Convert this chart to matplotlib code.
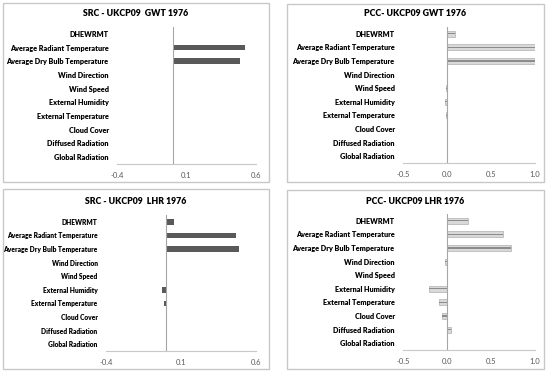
import numpy as np
import matplotlib
matplotlib.use("Agg")
import matplotlib.pyplot as plt
from matplotlib.patches import Rectangle

plt.rcParams['font.family'] = ['Lato', 'DejaVu Sans']

categories = ['DHEWRMT', 'Average Radiant Temperature', 'Average Dry Bulb Temperature',
              'Wind Direction', 'Wind Speed', 'External Humidity', 'External Temperature',
              'Cloud Cover', 'Diffused Radiation', 'Global Radiation']

src_gwt = [0.003, 0.523, 0.485, 0.003, 0.0, 0.0, 0.0, 0.0, 0.003, 0.0]
pcc_gwt = [0.09, 1.0, 1.0, 0.0, -0.01, -0.02, -0.01, 0.0, 0.005, -0.005]
src_lhr = [0.055, 0.465, 0.485, 0.0, 0.0, -0.025, -0.012, -0.003, 0.005, 0.0]
pcc_lhr = [0.24, 0.64, 0.73, -0.02, 0.0, -0.21, -0.09, -0.06, 0.045, 0.0]

titles = ['SRC - UKCP09  GWT 1976', 'PCC- UKCP09 GWT 1976',
          'SRC - UKCP09  LHR 1976', 'PCC- UKCP09 LHR 1976']
src_ticks = [-0.4, 0.1, 0.6]
pcc_ticks = [-0.5, 0.0, 0.5, 1.0]

fig = plt.figure(figsize=(5.5, 3.73), dpi=100)
W, H = 550, 373


def fbox(x0, y0, x1, y1):
    # pixel box (top-left origin) -> figure coords
    return [x0 / W, 1 - y1 / H, (x1 - x0) / W, (y1 - y0) / H]


# panel borders
for (x0, y0, x1, y1) in [(3, 3, 269, 182), (287, 4, 544, 182),
                         (3, 189, 269, 369), (287, 190, 544, 369)]:
    fig.patches.append(Rectangle((x0 / W, 1 - y1 / H), (x1 - x0) / W, (y1 - y0) / H,
                                 transform=fig.transFigure, fill=False,
                                 edgecolor='#c8c8c8', linewidth=1.0))

panels = [
    (fbox(117, 27, 256, 164), src_gwt, 'src', titles[0], (136, 14), 5.2),
    (fbox(403, 27, 535, 163), pcc_gwt, 'pcc', titles[1], (415, 14), 5.2),
    (fbox(106, 215, 256, 351), src_lhr, 'src', titles[2], (136, 201), 4.8),
    (fbox(403, 214, 535, 350), pcc_lhr, 'pcc', titles[3], (415, 201), 5.2),
]

y = np.arange(len(categories))

for rect, vals, kind, title, tpos, lsize in panels:
    ax = fig.add_axes(rect)
    if kind == 'src':
        ax.barh(y, vals, height=0.42, color='#595959')
        ax.set_xlim(-0.4, 0.6)
        ax.set_xticks(src_ticks)
        ax.set_xticklabels(['-0.4', '0.1', '0.6'])
    else:
        # light gradient-like bars with a darker core
        ax.barh(y, vals, height=0.45, color='#d9d9d9', edgecolor='#b0b0b0', linewidth=0.5)
        ax.barh(y, vals, height=0.08, color='#8c8c8c')
        ax.set_xlim(-0.5, 1.0)
        ax.set_xticks(pcc_ticks)
        ax.set_xticklabels(['-0.5', '0.0', '0.5', '1.0'])
    ax.set_ylim(len(categories) - 0.5, -0.5)
    ax.set_yticks(y)
    ax.set_yticklabels(categories, fontweight='heavy', fontsize=lsize)
    ax.axvline(0, color='#a6a6a6', linewidth=0.8)
    for s in ['top', 'right', 'left']:
        ax.spines[s].set_visible(False)
    ax.spines['bottom'].set_color('#c8c8c8')
    ax.tick_params(axis='y', length=0, pad=6)
    ax.tick_params(axis='x', length=0, pad=6, labelsize=5.5, labelcolor='#595959')
    fig.text(tpos[0] / W, 1 - tpos[1] / H, title, ha='center', va='center',
             fontsize=6.3, fontweight='heavy')

fig.savefig('out.png', dpi=100)
